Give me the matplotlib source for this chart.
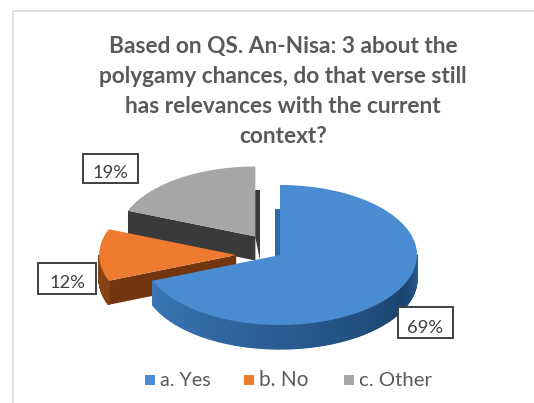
import numpy as np
import matplotlib
matplotlib.use("Agg")
import matplotlib.pyplot as plt
from matplotlib.patches import Polygon, Rectangle
from matplotlib.colors import to_rgb

# ---------------- data ----------------
categories = ["a. Yes", "b. No", "c. Other"]
values = [69, 12, 19]
value_labels = ["69%", "12%", "19%"]
title_lines = ["Based on QS. An-Nisa: 3 about the",
               "polygamy chances, do that verse still",
               "has relevances with the current",
               "context?"]

# ---------------- style ----------------
top_colors = ["#4A8CD1", "#EE7B2F", "#A6A6A6"]
wall_colors = ["#2F6AA8", "#733510", "#3A3A3A"]
outer_light = ["#3F80C4", "#8A4416", "#5a5a5a"]
outer_dark = ["#1B4470", "#6A300E", "#333333"]
explode = [0.0, 0.32, 0.32]
FONT = "Lato"
TXT = "#595959"

W, H = 534, 403
fig = plt.figure(figsize=(W / 100, H / 100), dpi=100)
ax = fig.add_axes([0, 0, 1, 1])
ax.set_xlim(0, W)
ax.set_ylim(H, 0)
ax.axis("off")

# outer frame
ax.add_patch(Rectangle((13, 11), 540, 410, fill=False, ec="#d9d9d9", lw=1.2))

# pie geometry (screen pixels)
cx, cy, R, r, depth = 280.0, 255.0, 137.0, 70.0, 24.0


def P(theta, ox, oy, dz=0.0, dx=0.0):
    return (cx + ox + R * np.cos(theta) + dx, cy + oy - r * np.sin(theta) + dz)


total = float(sum(values))
angles = []
a = np.pi / 2
for v in values:
    span = 2 * np.pi * v / total
    angles.append((a - span, a))  # clockwise from 12 o'clock
    a -= span


def lerp(c1, c2, t):
    c1, c2 = np.array(to_rgb(c1)), np.array(to_rgb(c2))
    return tuple(c1 + (c2 - c1) * np.clip(t, 0, 1))


order = [2, 1, 0]  # back to front
z = 2
for i in order:
    a1, a2 = angles[i]
    mid = 0.5 * (a1 + a2)
    ox = explode[i] * R * np.cos(mid)
    oy = -explode[i] * r * np.sin(mid)
    c0 = (cx + ox, cy + oy)

    # radial walls
    for edge, nrm in ((a1, a1 - np.pi / 2), (a2, a2 + np.pi / 2)):
        if np.sin(nrm) <= 1e-6:
            pe = P(edge, ox, oy)
            if abs(np.cos(nrm)) > 0.9:
                dx = 5.0 * np.cos(nrm)
                pts = [c0, (pe[0], pe[1] + depth), (pe[0] + dx, pe[1] + depth),
                       (c0[0] + dx, c0[1] + depth)]
            else:
                pts = [c0, pe, P(edge, ox, oy, depth), (c0[0], c0[1] + depth)]
            ax.add_patch(Polygon(pts, closed=True, fc=wall_colors[i], ec="none", zorder=z))

    # outer curved wall
    th = np.linspace(a1, a2, 300)
    for k in range(len(th) - 1):
        t0, t1 = th[k], th[k + 1]
        if np.sin(0.5 * (t0 + t1)) < 0:
            tm = 0.5 * (t0 + t1)
            frac = ((np.degrees(tm) + 180) % 360) / 180.0
            if frac < 0.85:
                col = lerp(outer_light[i], outer_dark[i], frac / 0.85)
            else:
                col = lerp(outer_dark[i], outer_light[i], (frac - 0.85) / 0.15 * 0.35)
            pts = [P(t0, ox, oy), P(t1, ox, oy), P(t1, ox, oy, depth), P(t0, ox, oy, depth)]
            ax.add_patch(Polygon(pts, closed=True, fc=col, ec=col, lw=0.9, zorder=z))
    z += 1
    # top face
    arc = [P(t, ox, oy) for t in th]
    ax.add_patch(Polygon([c0] + arc, closed=True, fc=top_colors[i], ec="none", zorder=z))
    z += 1

fig.canvas.draw()
renderer = fig.canvas.get_renderer()


def fit(txt, target_w, base=14):
    txt.set_fontsize(base)
    w = txt.get_window_extent(renderer).width
    txt.set_fontsize(base * target_w / w)


# title
baselines = [53, 83, 113, 143]
tt = []
for line, yb in zip(title_lines, baselines):
    tt.append(ax.text(283, yb, line, ha="center", va="baseline", family=FONT,
                      fontweight="bold", color=TXT, fontsize=14, zorder=20))
fit(tt[1], 371)
for t in tt:
    t.set_fontsize(tt[1].get_fontsize())

# value labels with boxes
box_xy = [(398, 307), (38, 263), (83, 154)]
box_size = [(55, 31), (58, 31), (55, 29)]
text_base = [333, 288, 178]
for i in range(3):
    bx, by = box_xy[i]
    bw, bh = box_size[i]
    ax.add_patch(Rectangle((bx, by), bw, bh, fc="white", ec="#404040",
                           lw=1.4, zorder=30))
    t = ax.text(bx + bw / 2, text_base[i], value_labels[i], ha="center", va="baseline",
                family=FONT, color="#404040", zorder=31)
    fit(t, 36)

# legend
leg_sq_x = [145, 244, 344]
leg_w = [51, 50, 73]
for i in range(3):
    ax.add_patch(Rectangle((leg_sq_x[i], 375), 10, 10, fc=top_colors[i], ec="none", zorder=30))
    t = ax.text(leg_sq_x[i] + 15, 386, categories[i], ha="left", va="baseline",
                family=FONT, color=TXT, zorder=31)
    fit(t, leg_w[i])

fig.savefig("out.png", dpi=100)
